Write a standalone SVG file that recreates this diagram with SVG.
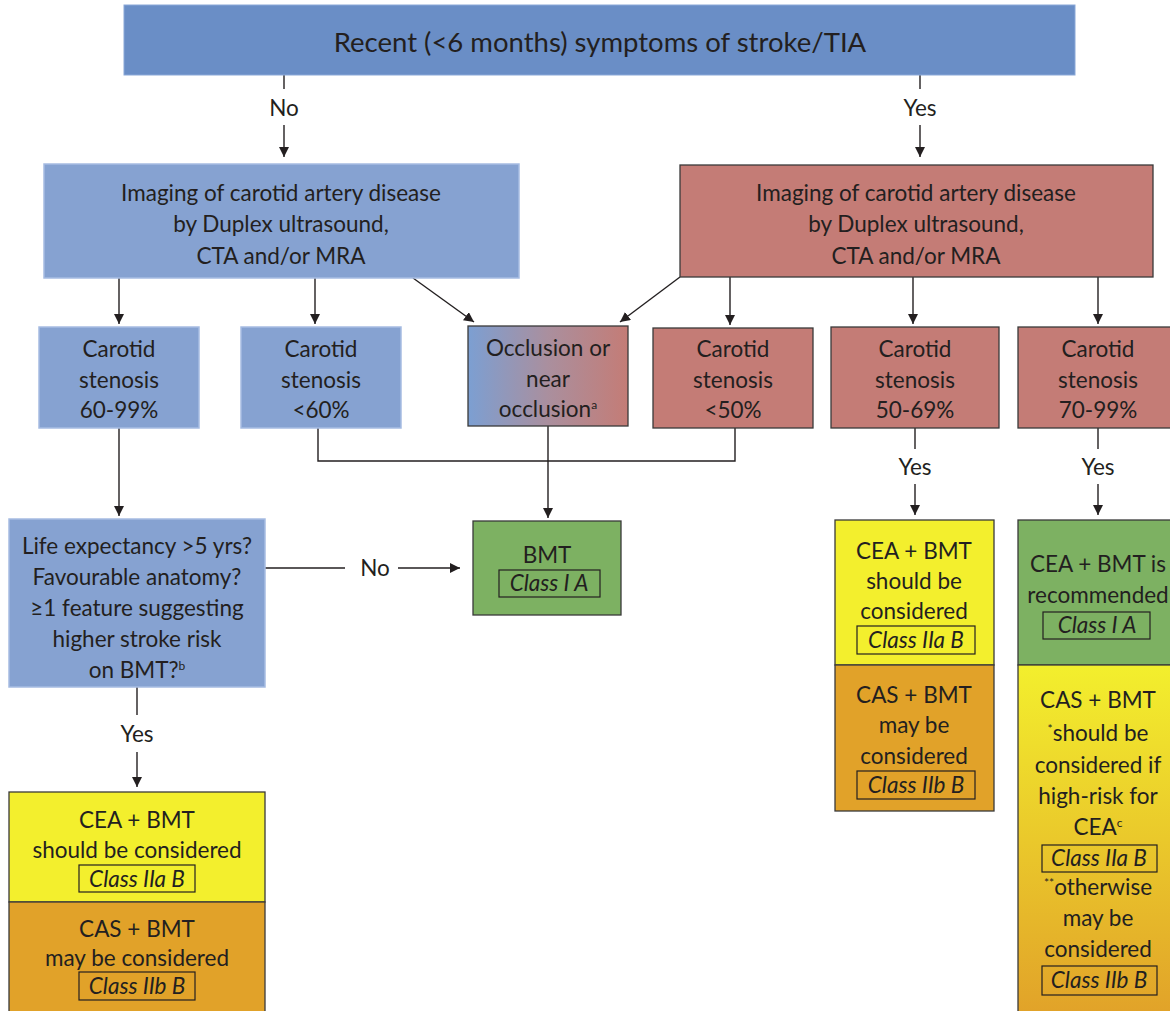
<svg xmlns="http://www.w3.org/2000/svg" width="1170" height="1011" viewBox="0 0 1170 1011">
<style>
text{font-family:Lato,"Open Sans","Liberation Sans",sans-serif;fill:#231f20;text-anchor:middle}
.t26{font-size:27.5px}
.t21{font-size:22.5px}
.i{font-style:italic}
.blue{fill:#86a2d1;stroke:#a6bce2;stroke-width:1.5}
.red{fill:#c47c76;stroke:#3a3a3a;stroke-width:1.3}
.green{fill:#7db162;stroke:#3a3a3a;stroke-width:1.3}
.yel{fill:#f3ef2d;stroke:#3a3a3a;stroke-width:1.3}
.ora{fill:#e1a229;stroke:#3a3a3a;stroke-width:1.3}
.cls{fill:none;stroke:#231f20;stroke-width:1.2}
.ln{fill:none;stroke:#231f20;stroke-width:1.4}
.sup{font-size:12px}
</style>
<defs>
<marker id="ah" viewBox="0 0 10 10" refX="10" refY="5" markerWidth="10" markerHeight="10" markerUnits="userSpaceOnUse" orient="auto">
<path d="M0,0 L10,5 L0,10 z" fill="#231f20"/>
</marker>
<linearGradient id="occ" x1="0" y1="0" x2="1" y2="0">
<stop offset="0" stop-color="#7c9fd2"/>
<stop offset="0.5" stop-color="#aa8f9e"/>
<stop offset="1" stop-color="#c47c76"/>
</linearGradient>
<linearGradient id="yo" x1="0" y1="0" x2="0" y2="1">
<stop offset="0" stop-color="#f3ef2d"/>
<stop offset="1" stop-color="#e1a229"/>
</linearGradient>
</defs>

<g id="connectors">
<line class="ln" x1="284" y1="75" x2="284" y2="89"/>
<text class="t21" x="284" y="116">No</text>
<line class="ln" x1="284" y1="125" x2="284" y2="157" marker-end="url(#ah)"/>
<line class="ln" x1="920" y1="75" x2="920" y2="89"/>
<text class="t21" x="920" y="116">Yes</text>
<line class="ln" x1="920" y1="125" x2="920" y2="157" marker-end="url(#ah)"/>

<line class="ln" x1="119" y1="278" x2="119" y2="324" marker-end="url(#ah)"/>
<line class="ln" x1="315" y1="278" x2="315" y2="324" marker-end="url(#ah)"/>
<line class="ln" x1="413" y1="278" x2="474" y2="322" marker-end="url(#ah)"/>
<line class="ln" x1="680" y1="277" x2="620" y2="322" marker-end="url(#ah)"/>
<line class="ln" x1="730" y1="277" x2="730" y2="325" marker-end="url(#ah)"/>
<line class="ln" x1="913" y1="277" x2="913" y2="324" marker-end="url(#ah)"/>
<line class="ln" x1="1098" y1="277" x2="1098" y2="324" marker-end="url(#ah)"/>

<polyline class="ln" points="318,428 318,461 735,461 735,428"/>
<line class="ln" x1="548" y1="426" x2="548" y2="518" marker-end="url(#ah)"/>
<line class="ln" x1="119" y1="428" x2="119" y2="516" marker-end="url(#ah)"/>

<line class="ln" x1="265" y1="568" x2="345" y2="568"/>
<text class="t21" x="375" y="576">No</text>
<line class="ln" x1="398" y1="568" x2="460" y2="568" marker-end="url(#ah)"/>

<line class="ln" x1="137" y1="687" x2="137" y2="715"/>
<text class="t21" x="137" y="742">Yes</text>
<line class="ln" x1="137" y1="752" x2="137" y2="787" marker-end="url(#ah)"/>

<line class="ln" x1="915" y1="428" x2="915" y2="449"/>
<text class="t21" x="915" y="475">Yes</text>
<line class="ln" x1="915" y1="484" x2="915" y2="515" marker-end="url(#ah)"/>

<line class="ln" x1="1098" y1="428" x2="1098" y2="449"/>
<text class="t21" x="1098" y="475">Yes</text>
<line class="ln" x1="1098" y1="484" x2="1098" y2="515" marker-end="url(#ah)"/>
</g>

<g id="top">
<rect x="124" y="5" width="951" height="70" fill="#6a8ec6" stroke="#8aa8d8" stroke-width="1"/>
<text class="t26" x="600" y="52">Recent (&lt;6 months) symptoms of stroke/TIA</text>
</g>

<g id="imaging-no">
<rect class="blue" x="44" y="164" width="475" height="114"/>
<text class="t21" x="281" y="201">Imaging of carotid artery disease</text>
<text class="t21" x="281" y="232">by Duplex ultrasound,</text>
<text class="t21" x="281" y="264">CTA and/or MRA</text>
</g>

<g id="imaging-yes">
<rect class="red" x="680" y="165" width="473" height="112"/>
<text class="t21" x="916" y="201">Imaging of carotid artery disease</text>
<text class="t21" x="916" y="232">by Duplex ultrasound,</text>
<text class="t21" x="916" y="264">CTA and/or MRA</text>
</g>

<g id="sten-60-99">
<rect class="blue" x="39" y="327" width="160" height="101"/>
<text class="t21" x="119" y="357">Carotid</text>
<text class="t21" x="119" y="388">stenosis</text>
<text class="t21" x="119" y="418">60-99%</text>
</g>

<g id="sten-lt60">
<rect class="blue" x="241" y="327" width="160" height="101"/>
<text class="t21" x="321" y="357">Carotid</text>
<text class="t21" x="321" y="388">stenosis</text>
<text class="t21" x="321" y="418">&lt;60%</text>
</g>

<g id="occlusion">
<rect x="468" y="326" width="160" height="100" fill="url(#occ)" stroke="#3a3a3a" stroke-width="1.3"/>
<text class="t21" x="548" y="356">Occlusion or</text>
<text class="t21" x="548" y="387">near</text>
<text class="t21" x="548" y="417">occlusion<tspan class="sup" dy="-8">a</tspan></text>
</g>

<g id="sten-lt50">
<rect class="red" x="653" y="328" width="160" height="100"/>
<text class="t21" x="733" y="357">Carotid</text>
<text class="t21" x="733" y="388">stenosis</text>
<text class="t21" x="733" y="418">&lt;50%</text>
</g>

<g id="sten-50-69">
<rect class="red" x="831" y="327" width="168" height="101"/>
<text class="t21" x="915" y="357">Carotid</text>
<text class="t21" x="915" y="388">stenosis</text>
<text class="t21" x="915" y="418">50-69%</text>
</g>

<g id="sten-70-99">
<rect class="red" x="1018" y="327" width="160" height="101"/>
<text class="t21" x="1098" y="357">Carotid</text>
<text class="t21" x="1098" y="388">stenosis</text>
<text class="t21" x="1098" y="418">70-99%</text>
</g>

<g id="life">
<rect class="blue" x="9" y="519" width="256" height="168"/>
<text class="t21" x="137" y="554">Life expectancy &gt;5 yrs?</text>
<text class="t21" x="137" y="585">Favourable anatomy?</text>
<text class="t21" x="137" y="616">≥1 feature suggesting</text>
<text class="t21" x="137" y="647">higher stroke risk</text>
<text class="t21" x="137" y="678">on BMT?<tspan class="sup" dy="-8">b</tspan></text>
</g>

<g id="bmt">
<rect class="green" x="473" y="521" width="148" height="94"/>
<text class="t21" x="547" y="563">BMT</text>
<rect class="cls" x="499" y="570" width="101" height="27"/>
<text class="t21 i" x="549" y="591">Class I A</text>
</g>

<g id="left-cea">
<rect class="yel" x="9" y="792" width="256" height="110"/>
<text class="t21" x="137" y="828">CEA + BMT</text>
<text class="t21" x="137" y="858">should be considered</text>
<rect class="cls" x="79" y="865" width="116" height="27"/>
<text class="t21 i" x="137" y="887">Class IIa B</text>
</g>

<g id="left-cas">
<rect class="ora" x="9" y="902" width="256" height="110"/>
<text class="t21" x="137" y="937">CAS + BMT</text>
<text class="t21" x="137" y="966">may be considered</text>
<rect class="cls" x="79" y="972" width="116" height="28"/>
<text class="t21 i" x="137" y="994">Class IIb B</text>
</g>

<g id="mid-cea">
<rect class="yel" x="835" y="520" width="159" height="145"/>
<text class="t21" x="914" y="559">CEA + BMT</text>
<text class="t21" x="914" y="589">should be</text>
<text class="t21" x="914" y="619">considered</text>
<rect class="cls" x="857" y="626" width="118" height="28"/>
<text class="t21 i" x="916" y="648">Class IIa B</text>
</g>

<g id="mid-cas">
<rect class="ora" x="835" y="665" width="159" height="146"/>
<text class="t21" x="914" y="703">CAS + BMT</text>
<text class="t21" x="914" y="733">may be</text>
<text class="t21" x="914" y="764">considered</text>
<rect class="cls" x="857" y="771" width="118" height="28"/>
<text class="t21 i" x="916" y="793">Class IIb B</text>
</g>

<g id="right-cea">
<rect class="green" x="1018" y="520" width="160" height="145"/>
<text class="t21" x="1098" y="572">CEA + BMT is</text>
<text class="t21" x="1098" y="603">recommended</text>
<rect class="cls" x="1043" y="612" width="107" height="27"/>
<text class="t21 i" x="1097" y="633">Class I A</text>
</g>

<g id="right-cas">
<rect x="1018" y="665" width="160" height="350" fill="url(#yo)" stroke="#3a3a3a" stroke-width="1.3"/>
<text class="t21" x="1098" y="708">CAS + BMT</text>
<text class="t21" x="1098" y="741"><tspan class="sup" dy="-8">*</tspan><tspan dy="8">should be</tspan></text>
<text class="t21" x="1098" y="773">considered if</text>
<text class="t21" x="1098" y="804">high-risk for</text>
<text class="t21" x="1098" y="835">CEA<tspan class="sup" dy="-8">c</tspan></text>
<rect class="cls" x="1042" y="845" width="115" height="27"/>
<text class="t21 i" x="1099" y="866">Class IIa B</text>
<text class="t21" x="1098" y="895"><tspan class="sup" dy="-8">**</tspan><tspan dy="8">otherwise</tspan></text>
<text class="t21" x="1098" y="926">may be</text>
<text class="t21" x="1098" y="957">considered</text>
<rect class="cls" x="1042" y="966" width="115" height="29"/>
<text class="t21 i" x="1099" y="988">Class IIb B</text>
</g>
</svg>
